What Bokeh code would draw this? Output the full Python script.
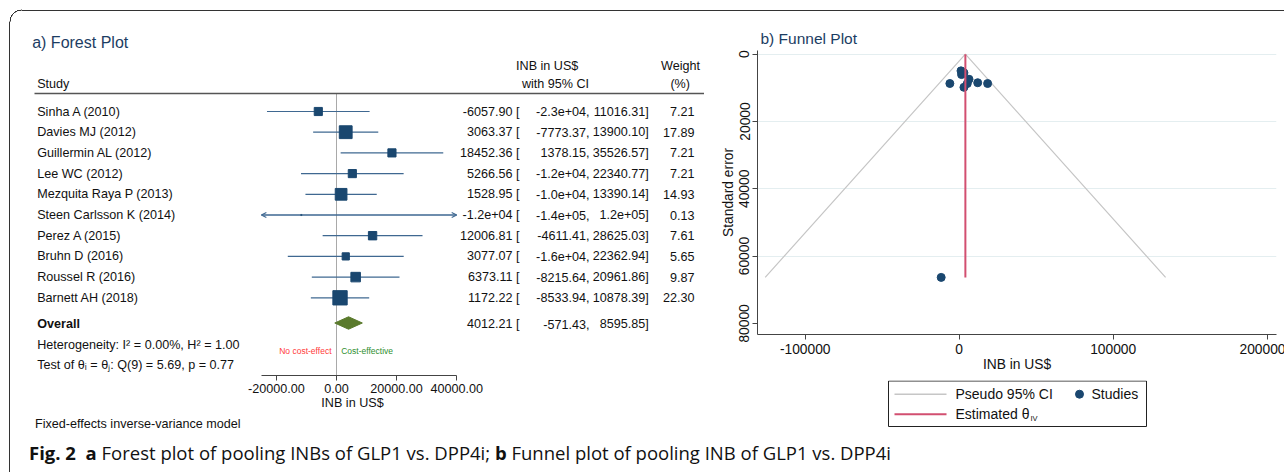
import math
from bokeh.plotting import figure
from bokeh.models import (ColumnDataSource, Range1d, FixedTicker, PrintfTickFormatter,
                          Arrow, OpenHead, Div)
from bokeh.layouts import row, column
from bokeh.embed import file_html
from bokeh.resources import INLINE
from bokeh.core.properties import value

# ---------------- data ----------------
studies = ["Sinha A (2010)", "Davies MJ (2012)", "Guillermin AL (2012)", "Lee WC (2012)",
           "Mezquita Raya P (2013)", "Steen Carlsson K (2014)", "Perez A (2015)",
           "Bruhn D (2016)", "Roussel R (2016)", "Barnett AH (2018)"]
inb = [-6057.90, 3063.37, 18452.36, 5266.56, 1528.95, -11700.00, 12006.81, 3077.07, 6373.11, 1172.22]
ci_low = [-23132.11, -7773.37, 1378.15, -11807.65, -10332.24, -141700.00, -4611.41, -16208.80, -8215.64, -8533.94]
ci_high = [11016.31, 13900.10, 35526.57, 22340.77, 13390.14, 118300.00, 28625.03, 22362.94, 20961.86, 10878.39]
weight = [7.21, 17.89, 7.21, 7.21, 14.93, 0.13, 7.61, 5.65, 9.87, 22.30]
overall_est = 4012.21
overall_low = -571.43
overall_high = 8595.85
heterogeneity_txt = "Heterogeneity: I² = 0.00%, H² = 1.00"
test_txt = "Test of θᵢ = θⱼ: Q(9) = 5.69, p = 0.77"
model_txt = "Fixed-effects inverse-variance model"
forest_ticks = [-20000, 0, 20000, 40000]
forest_axis_bounds = (-25000, 40000)
funnel_xticks = [-100000, 0, 100000, 200000]
funnel_yticks = [0, 20000, 40000, 60000, 80000]
funnel_grid = [0, 20000, 40000, 60000]
legend_labels = ["Pseudo 95% CI", "Studies", "Estimated θ", "IV"]

FONT = value("Liberation Sans")
NAVY = "#1a476f"
CI_COL = "#3f6891"
PSEUDO_COL = "#c6c6c6"
EST_COL = "#d24f70"
TXT = "#111111"
FS = "12.6px"


def fmt(v):
    s = f"{v:.2f}"
    if len(s) > 8:
        s = f"{v:.1e}"
    return s

# ---------------- geometry (screen pixels) ----------------
F_W, F_H = 704, 414
FE_H = 22
COL_GAP_X, COL_GAP_Y = 9, 3      # observed offset of the right-hand column
FUN_W, FUN_H = 571, 380
LEG_H = 56
CAP_H = 20

ZERO_SX = 336.0
F_K = 20000 / 60.1
ROW1_SY = 111.0
ROW_DY = 20.7
F_AXIS_SY = 375.0


def fx(sx):
    return (sx - ZERO_SX) * F_K


def fr(sy):
    return 1 + (sy - ROW1_SY) / ROW_DY

# ---------------- forest plot ----------------
fp = figure(width=F_W, height=F_H,
            x_range=Range1d(fx(0), fx(F_W)),
            y_range=Range1d(fr(F_AXIS_SY), fr(0)),
            output_backend="svg", toolbar_location=None, y_axis_location=None,
            min_border_left=0, min_border_right=0, min_border_top=0,
            min_border_bottom=int(F_H - F_AXIS_SY))
fp.outline_line_color = None
fp.grid.visible = False
fp.background_fill_color = None
fp.border_fill_color = None

n = len(studies)
rows = [i + 1 for i in range(n)]
lo_c = [max(v, forest_axis_bounds[0]) for v in ci_low]
hi_c = [min(v, forest_axis_bounds[1]) for v in ci_high]

r_head = fr(93)
fp.segment(x0=[0], y0=[r_head], x1=[0], y1=[fr(F_AXIS_SY)], line_color="#a9a9a9", line_width=1)
fp.segment(x0=[fx(34)], y0=[r_head], x1=[fx(706)], y1=[r_head], line_color="#555555", line_width=1.4)

src = ColumnDataSource(dict(study=studies, y=rows, est=inb, lo=lo_c, hi=hi_c,
                            size=[3.03 * math.sqrt(w) for w in weight],
                            t_est=[fmt(v) + " [" for v in inb],
                            t_lo=[fmt(v) + "," for v in ci_low],
                            t_hi=[fmt(v) + "]" for v in ci_high],
                            t_w=[f"{w:.2f}" for w in weight]))
fp.segment(x0="lo", y0="y", x1="hi", y1="y", source=src, line_color=CI_COL, line_width=1.2)

left_arr = [(e, forest_axis_bounds[0], r) for e, l, r in zip(inb, ci_low, rows) if l < forest_axis_bounds[0]]
right_arr = [(e, forest_axis_bounds[1], r) for e, h, r in zip(inb, ci_high, rows) if h > forest_axis_bounds[1]]
for arr in (left_arr, right_arr):
    if arr:
        asrc = ColumnDataSource(dict(xs=[a[0] for a in arr], xe=[a[1] for a in arr], y=[a[2] for a in arr]))
        fp.add_layout(Arrow(end=OpenHead(size=5, line_color=CI_COL, line_width=1.2), source=asrc,
                            x_start="xs", y_start="y", x_end="xe", y_end="y",
                            line_color=CI_COL, line_width=1.2))

fp.scatter(x="est", y="y", size="size", marker="square", source=src,
           fill_color=NAVY, line_color=NAVY)

r_ov = fr(322.5)
fp.patch(x=[overall_low, overall_est, overall_high, overall_est],
         y=[r_ov, r_ov - 0.3, r_ov, r_ov + 0.3], fill_color="#5a7a2c", line_color="#5a7a2c")

tkw = dict(text_font=FONT, text_font_size=FS, text_color=TXT, text_baseline="middle")
fp.text(x=[fx(31.7)], y=[fr(42.3)], text=["a) Forest Plot"], text_font=FONT, text_font_size="16px",
        text_color="#1c3d63", text_baseline="middle")
fp.text(x=[fx(36.7)], y=[fr(83.3)], text=["Study"], **tkw)
fp.text(x=[fx(546.7), fx(555), fx(680), fx(679.7)], y=[fr(65), fr(83.3), fr(65), fr(83.3)],
        text=["INB in US$", "with 95% CI", "Weight", "(%)"], text_align="center", **tkw)
fp.text(x=fx(36.7), y="y", text="study", source=src, **tkw)
fp.text(x=fx(519), y="y", text="t_est", source=src, text_align="right", **tkw)
fp.text(x=fx(589), y="y", text="t_lo", source=src, text_align="right", **tkw)
fp.text(x=fx(648.3), y="y", text="t_hi", source=src, text_align="right", **tkw)
fp.text(x=fx(694), y="y", text="t_w", source=src, text_align="right", **tkw)

r_ovt = fr(323.5)
fp.text(x=[fx(36.7)], y=[r_ovt], text=["Overall"], text_font_style="bold", **tkw)
fp.text(x=[fx(519)], y=[r_ovt], text=[fmt(overall_est) + " ["], text_align="right", **tkw)
fp.text(x=[fx(589)], y=[r_ovt], text=[fmt(overall_low) + ","], text_align="right", **tkw)
fp.text(x=[fx(648.3)], y=[r_ovt], text=[fmt(overall_high) + "]"], text_align="right", **tkw)
fp.text(x=[fx(36.7), fx(36.7)], y=[fr(344), fr(364.3)], text=[heterogeneity_txt, test_txt], **tkw)
fp.text(x=[fx(331)], y=[fr(350.7)], text=["No cost-effect"], text_align="right", text_font=FONT,
        text_font_size="8.5px", text_color="#ff3b3b", text_baseline="middle")
fp.text(x=[fx(340.7)], y=[fr(350.7)], text=["Cost-effective"], text_align="left", text_font=FONT,
        text_font_size="8.5px", text_color="#2f8f2f", text_baseline="middle")

ax = fp.xaxis[0]
ax.ticker = FixedTicker(ticks=forest_ticks)
ax.formatter = PrintfTickFormatter(format="%.2f")
ax.bounds = forest_axis_bounds
ax.axis_label = "INB in US$"
ax.axis_label_text_font = "Liberation Sans"
ax.axis_label_text_font_size = FS
ax.axis_label_text_font_style = "normal"
ax.axis_label_text_color = TXT
ax.axis_label_standoff = 0
ax.major_label_text_font = "Liberation Sans"
ax.major_label_text_font_size = FS
ax.major_label_text_color = TXT
ax.major_label_standoff = 3
ax.major_tick_in = 0
ax.major_tick_out = 5
ax.minor_tick_out = 0
ax.minor_tick_in = 0
ax.axis_line_color = "#444444"
ax.major_tick_line_color = "#444444"

fe_div = Div(text=model_txt, width=F_W, height=FE_H,
             styles={"font-family": "Liberation Sans", "font-size": FS, "line-height": "10px",
                     "padding-left": "30px", "box-sizing": "border-box", "color": TXT,
                     "white-space": "nowrap"})

# ---------------- funnel plot ----------------
SE = [(h - l) / (2 * 1.96) for l, h in zip(ci_low, ci_high)]
se_max = max(SE)

FZ_SX = 957.7
FUN_KX = 100000 / 154.0
FZ_SY = 56.7
FUN_KY = 20000 / 67.3
FR_L, FR_R, FR_T, FR_B = 756.0, 1275.0, 53.0, 337.0
FUN_X0 = F_W + COL_GAP_X
B_LEFT = int(FR_L - FUN_X0)
B_RIGHT = int(FUN_X0 + FUN_W - FR_R)


def ux(sx):
    return (sx - FZ_SX) * FUN_KX


def uy(sy):
    return (sy - FZ_SY) * FUN_KY


fun = figure(width=FUN_W, height=FUN_H,
             x_range=Range1d(ux(FR_L), ux(FR_R)), y_range=Range1d(uy(FR_B), uy(FR_T)),
             output_backend="svg", toolbar_location=None,
             min_border_left=B_LEFT, min_border_right=B_RIGHT,
             min_border_top=int(FR_T - COL_GAP_Y),
             min_border_bottom=int(FUN_H - (FR_B - COL_GAP_Y)))
fun.outline_line_color = None
fun.background_fill_color = None
fun.border_fill_color = None
fun.xgrid.visible = False
fun.ygrid.ticker = FixedTicker(ticks=funnel_grid)
fun.ygrid.grid_line_color = "#e4eef0"
fun.ygrid.grid_line_width = 1

fun.title.text = "b) Funnel Plot"
fun.title.align = "left"
fun.title.offset = 3
fun.title.text_font = "Liberation Sans"
fun.title.text_font_size = "15.5px"
fun.title.text_font_style = "normal"
fun.title.text_color = "#1c3d63"
fun.title.standoff = 7

fun.line(x=[overall_est - 1.96 * se_max, overall_est, overall_est + 1.96 * se_max],
         y=[se_max, 0, se_max], line_color=PSEUDO_COL, line_width=1.2)
fun.scatter(x=inb, y=SE, size=8, fill_color=NAVY, line_color=NAVY)
fun.line(x=[overall_est, overall_est], y=[0, se_max], line_color=EST_COL, line_width=2)

for a in (fun.xaxis[0], fun.yaxis[0]):
    a.major_label_text_font = "Liberation Sans"
    a.major_label_text_font_size = "13.8px"
    a.major_label_text_color = TXT
    a.axis_label_text_font = "Liberation Sans"
    a.axis_label_text_font_size = "13.8px"
    a.axis_label_text_font_style = "normal"
    a.axis_label_text_color = TXT
    a.major_tick_in = 0
    a.major_tick_out = 5
    a.minor_tick_in = 0
    a.minor_tick_out = 0
    a.axis_line_color = "#444444"
    a.major_tick_line_color = "#444444"
    a.formatter = PrintfTickFormatter(format="%d")

fun.xaxis[0].ticker = FixedTicker(ticks=funnel_xticks)
fun.xaxis[0].axis_label = "INB in US$"
fun.xaxis[0].major_label_standoff = 4
fun.xaxis[0].axis_label_standoff = 0
fun.yaxis[0].ticker = FixedTicker(ticks=funnel_yticks)
fun.yaxis[0].axis_label = "Standard error"
fun.yaxis[0].major_label_orientation = "parallel"
fun.yaxis[0].major_label_standoff = 3
fun.yaxis[0].axis_label_standoff = 1

# ---------------- funnel legend (own small canvas, same left/right borders) ----------------
LY0 = FUN_H + COL_GAP_Y
leg = figure(width=FUN_W, height=LEG_H, x_range=Range1d(FR_L, FR_R),
             y_range=Range1d(LY0 + LEG_H, LY0), x_axis_location=None, y_axis_location=None,
             min_border_left=B_LEFT, min_border_right=B_RIGHT, min_border_top=0, min_border_bottom=0,
             output_backend="svg", toolbar_location=None)
leg.outline_line_color = None
leg.grid.visible = False
leg.background_fill_color = None
leg.border_fill_color = None
row1, row2 = 396.7, 416.7
leg.quad(left=[887], right=[1145], top=[383.5], bottom=[429], fill_color="white",
         line_color="#222222", line_width=1)
leg.segment(x0=[893, 893], y0=[row1, row2], x1=[945, 945], y1=[row1, row2],
            line_color=[PSEUDO_COL, EST_COL], line_width=[1.6, 2])
leg.scatter(x=[1078], y=[row1], size=8, fill_color=NAVY, line_color=NAVY)
leg.text(x=[954, 1090, 954], y=[row1, row1, row2], text=legend_labels[:3], text_font=FONT,
         text_font_size="14px", text_color=TXT, text_baseline="middle")
leg.text(x=[1029], y=[row2 + 4], text=[legend_labels[3]], text_font=FONT,
         text_font_size="7.5px", text_color=TXT, text_baseline="middle")

# ---------------- caption & layout ----------------
cap = Div(text='<b>Fig. 2</b>&nbsp; <b>a</b> Forest plot of pooling INBs of GLP1 vs. DPP4i; '
               '<b>b</b> Funnel plot of pooling INB of GLP1 vs. DPP4i',
          width=F_W + FUN_W, height=CAP_H,
          styles={"font-family": "Open Sans", "font-size": "18.5px", "line-height": "4px",
                  "padding-left": "24px", "box-sizing": "border-box", "white-space": "nowrap",
                  "color": "#111"})

frame_css = {
    "background-image": ("radial-gradient(circle at 22px 22px, transparent 11.4px, #333 11.6px, "
                         "#333 12.4px, transparent 12.6px), linear-gradient(#333, #333), "
                         "linear-gradient(#333, #333)"),
    "background-position": "0 0, 9px 22px, 22px 10px",
    "background-size": "22px 22px, 1px 460px, 1262px 1px",
    "background-repeat": "no-repeat",
}

root = column(row(column(fp, fe_div), column(fun, leg)), cap, styles=frame_css)

open("out.html", "w").write(file_html(root, INLINE, title="Forest and funnel plot"))
